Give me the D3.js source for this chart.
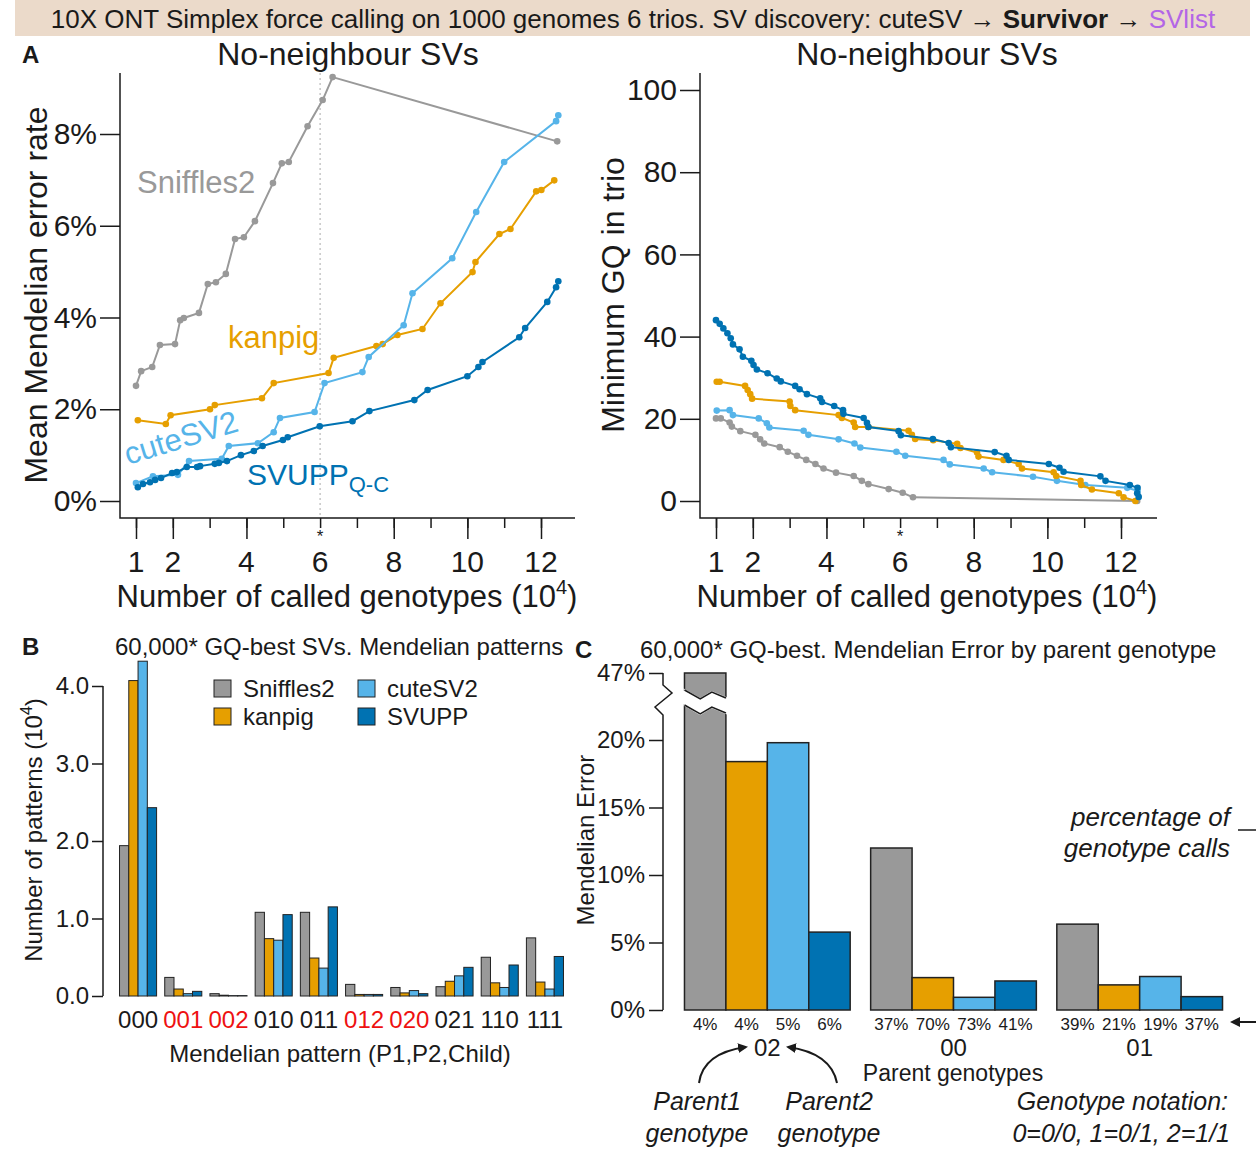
<!DOCTYPE html>
<html>
<head>
<meta charset="utf-8">
<script src="https://cdn.jsdelivr.net/npm/d3@7"></script>
<style>
body { margin: 0; background: #fff; }
svg { font-family: "Liberation Sans", Arial, Helvetica, sans-serif; }
</style>
</head>
<body>
<svg id="fig" width="1256" height="1149"></svg>
<script>
var callers = ["Sniffles2", "kanpig", "cuteSV2", "SVUPP"];
var colors = ["#999999", "#E69F00", "#56B4E9", "#0072B2"];

// A left: [called genotypes (10^4), mean Mendelian error %]
var errSniffles = [[1.00,2.51],[1.14,2.83],[1.44,2.92],[1.65,3.40],[2.06,3.42],[2.20,3.94],[2.30,3.99],[2.71,4.10],[2.95,4.73],[3.17,4.77],[3.44,4.95],[3.69,5.71],[3.93,5.75],[4.23,6.10],[4.72,6.93],[4.96,7.36],[5.15,7.39],[5.66,8.17],[6.07,8.74],[6.34,9.24],[12.44,7.84]];
var errKanpig = [[1.05,1.76],[1.81,1.68],[1.94,1.87],[3.01,2.00],[3.14,2.09],[4.42,2.24],[4.74,2.57],[6.23,2.79],[6.37,3.12],[7.53,3.38],[7.70,3.42],[8.10,3.62],[8.78,3.75],[9.27,4.31],[10.14,4.99],[10.22,5.21],[10.87,5.82],[11.17,5.93],[11.87,6.75],[12.01,6.78],[12.36,6.99]];
var errCute = [[1.00,0.39],[1.46,0.54],[2.14,0.57],[2.44,0.87],[3.33,0.92],[3.52,1.20],[4.31,1.26],[4.74,1.50],[4.91,1.81],[5.85,1.94],[6.12,2.57],[7.15,2.81],[7.32,3.14],[8.27,3.83],[8.51,4.53],[9.59,5.29],[10.24,6.30],[11.00,7.39],[12.41,8.28],[12.47,8.41]];
var errSvupp = [[1.05,0.30],[1.19,0.37],[1.38,0.41],[1.52,0.46],[1.68,0.50],[1.98,0.61],[2.11,0.63],[2.38,0.74],[2.66,0.74],[2.74,0.76],[3.14,0.81],[3.25,0.83],[3.47,0.87],[3.85,1.00],[4.20,1.09],[4.44,1.20],[4.99,1.33],[5.12,1.39],[5.99,1.63],[6.88,1.74],[7.34,1.96],[8.56,2.20],[8.92,2.42],[10.00,2.72],[10.30,2.92],[10.41,3.03],[11.41,3.57],[11.57,3.77],[12.17,4.34],[12.41,4.66],[12.47,4.79]];

// A right: [called genotypes (10^4), minimum GQ in trio]
var gqSniffles = [[1.00,20.1],[1.13,20.1],[1.37,19.1],[1.43,18.1],[1.66,17.0],[2.07,16.1],[2.20,15.0],[2.31,14.0],[2.73,13.1],[2.95,12.0],[3.20,11.0],[3.45,10.0],[3.70,9.0],[3.92,7.9],[4.26,6.9],[4.74,6.1],[4.96,4.9],[5.14,4.1],[5.69,2.9],[6.07,2.0],[6.35,0.9],[12.44,0.0]];
var gqKanpig = [[1.02,29.0],[1.10,29.0],[1.79,28.0],[1.86,27.0],[1.93,26.0],[1.98,24.9],[3.00,24.2],[3.02,23.1],[3.15,22.1],[4.33,20.9],[4.42,20.2],[4.74,19.1],[4.78,18.0],[5.14,18.0],[6.23,17.1],[6.32,16.1],[6.41,15.1],[6.90,14.8],[7.55,13.9],[7.64,12.9],[8.09,11.8],[8.13,10.8],[8.81,10.0],[9.22,9.0],[9.31,7.9],[10.17,7.0],[10.24,6.1],[10.90,4.9],[10.92,3.9],[11.21,2.8],[11.94,1.9],[12.07,0.9],[12.39,0.0]];
var gqCute = [[1.02,22.0],[1.37,22.1],[1.46,20.9],[2.16,20.1],[2.38,18.9],[2.45,17.9],[3.38,17.1],[3.51,16.1],[4.33,15.0],[4.76,14.0],[4.92,13.0],[5.90,12.0],[6.14,11.0],[7.18,10.0],[7.35,8.9],[8.27,7.9],[8.50,7.0],[9.61,5.9],[10.26,4.9],[11.03,3.9],[12.17,3.2],[12.45,2.5]];
var gqSvupp = [[1.00,44.0],[1.10,43.1],[1.20,42.0],[1.31,40.8],[1.40,39.6],[1.46,38.1],[1.64,36.9],[1.73,35.1],[1.96,34.1],[2.02,33.1],[2.11,32.0],[2.40,31.1],[2.65,29.8],[2.76,29.1],[3.15,28.0],[3.27,27.2],[3.47,26.0],[3.83,25.0],[3.88,24.1],[4.21,23.1],[4.45,22.1],[4.46,21.2],[5.01,20.2],[5.10,19.0],[5.14,18.0],[5.96,17.0],[6.02,16.0],[6.89,15.1],[7.32,14.1],[7.38,13.1],[8.57,11.9],[8.89,11.0],[8.95,10.0],[10.04,9.0],[10.33,8.1],[10.44,7.1],[11.44,6.0],[11.58,4.9],[12.24,3.9],[12.45,3.2],[12.44,1.9],[12.48,1.0]];

// B: pattern counts (10^4)
var patterns = ["000","001","002","010","011","012","020","021","110","111"];
var badPatterns = ["001","002","012","020"];
var patSniffles = [1.94,0.24,0.03,1.08,1.08,0.15,0.11,0.12,0.50,0.75];
var patKanpig   = [4.07,0.09,0.01,0.74,0.49,0.02,0.04,0.19,0.17,0.18];
var patCute     = [4.32,0.03,0.005,0.72,0.36,0.02,0.07,0.26,0.11,0.09];
var patSvupp    = [2.43,0.06,0.005,1.05,1.15,0.02,0.03,0.37,0.40,0.51];

// C: Mendelian error % by parent genotype, and share of genotype calls
var parentGt = ["02","00","01"];
var meSniffles = [47, 12.0, 6.36];
var meKanpig   = [18.4, 2.4, 1.86];
var meCute     = [19.8, 0.94, 2.48];
var meSvupp    = [5.77, 2.15, 0.99];
var callSniffles = [4, 37, 39];
var callKanpig   = [4, 70, 21];
var callCute     = [5, 73, 19];
var callSvupp    = [6, 41, 37];

var errTicks = [0, 2, 4, 6, 8];
var gtMinor = [1, 2, 3, 4, 5, 6, 7, 8, 9, 10, 11, 12];
var gtMajor = [1, 2, 4, 8, 10, 12];
var gtLabels = [1, 2, 4, 6, 8, 10, 12];
var gqTicks = [0, 20, 40, 60, 80, 100];
var patTicks = [0, 1, 2, 3, 4];
var meTicks = [0, 5, 10, 15, 20, 47];

var ink = "#1a1a1a";
var svg = d3.select("#fig");

var defs = svg.append("defs");
defs.append("marker")
    .attr("id", "arr")
    .attr("viewBox", "0 0 10 10")
    .attr("refX", 8).attr("refY", 5)
    .attr("markerWidth", 5).attr("markerHeight", 5)
    .attr("orient", "auto")
  .append("path")
    .attr("d", "M0,0L10,5L0,10z")
    .attr("fill", ink);

// Header band
svg.append("rect")
    .attr("x", 15).attr("y", 0)
    .attr("width", 1235).attr("height", 36)
    .attr("fill", "#ebdaca");
var head = svg.append("text")
    .attr("x", 633).attr("y", 28)
    .attr("text-anchor", "middle")
    .style("font-size", "26px")
    .attr("fill", ink);
head.append("tspan").text("10X ONT Simplex force calling on 1000 genomes 6 trios. SV discovery: cuteSV \u2192 ");
head.append("tspan").attr("font-weight", "bold").text("Survivor");
head.append("tspan").text(" \u2192 ");
head.append("tspan").attr("fill", "#b366e6").text("SVlist");

function styleAxis(g, size) {
  g.attr("font-family", null);
  g.select(".domain").remove();
  g.selectAll("line").attr("stroke", ink).attr("stroke-width", 1.5);
  g.selectAll("text").attr("fill", ink).style("font-size", size + "px");
}

function label(x, y, txt, size, opts) {
  opts = opts || {};
  var t = svg.append("text")
      .attr("x", x).attr("y", y)
      .attr("text-anchor", opts.anchor || "start")
      .attr("fill", opts.fill || ink)
      .style("font-size", size + "px")
      .text(txt);
  if (opts.bold) t.attr("font-weight", "bold");
  if (opts.italic) t.style("font-style", "italic");
  return t;
}

function drawSeries(g, data, x, y, color) {
  g.append("path")
      .datum(data)
      .attr("fill", "none")
      .attr("stroke", color)
      .attr("stroke-width", 2)
      .attr("d", d3.line().x(d => x(d[0])).y(d => y(d[1])));
  g.selectAll(null)
      .data(data)
    .enter()
    .append("circle")
      .attr("cx", d => x(d[0]))
      .attr("cy", d => y(d[1]))
      .attr("r", 3.3)
      .attr("fill", color);
}

function lineFrame(left, top, bottom, right) {
  svg.append("path")
      .attr("d", `M${left},${top}V${bottom}H${right}`)
      .attr("fill", "none")
      .attr("stroke", ink)
      .attr("stroke-width", 1.5);
}

function genotypeXAxis(x, cx) {
  // short ticks at every integer, long ones at the main labels
  var gMinor = svg.append("g")
      .attr("transform", "translate(0,518)")
      .call(d3.axisBottom(x).tickValues(gtMinor).tickFormat("").tickSize(10));
  styleAxis(gMinor, 30);
  var gMajor = svg.append("g")
      .attr("transform", "translate(0,518)")
      .call(d3.axisBottom(x).tickValues(gtMajor).tickFormat("").tickSize(21));
  styleAxis(gMajor, 30);
  svg.append("g")
    .selectAll("text")
    .data(gtLabels)
    .enter()
    .append("text")
      .attr("x", d => x(d))
      .attr("y", 572)
      .attr("text-anchor", "middle")
      .attr("fill", ink)
      .style("font-size", "30px")
      .text(d => d);
  var t = label(cx, 607, "Number of called genotypes (10", 31, {anchor: "middle"});
  t.append("tspan").attr("dy", -13).style("font-size", "20px").text("4");
  t.append("tspan").attr("dy", 13).text(")");
  label(x(6), 542, "*", 17, {anchor: "middle"});
}

// ---------- Panel A, left ----------
var xA = d3.scaleLinear().domain([1, 12]).range([136, 541]);
var yA = d3.scaleLinear().domain([0, 8]).range([501, 134]);

label(22, 63, "A", 24, {bold: true});
label(348, 65, "No-neighbour SVs", 32, {anchor: "middle"});

svg.append("line")
    .attr("x1", xA(6)).attr("x2", xA(6))
    .attr("y1", 73).attr("y2", 518)
    .attr("stroke", "#aaaaaa")
    .attr("stroke-width", 1)
    .attr("stroke-dasharray", "2,3");

lineFrame(120, 73, 518, 575);

var gA = svg.append("g")
    .attr("transform", "translate(120,0)")
    .call(d3.axisLeft(yA).tickValues(errTicks).tickFormat(d => d + "%").tickSize(20).tickPadding(3));
styleAxis(gA, 30);
genotypeXAxis(xA, 347);

svg.append("text")
    .attr("transform", "translate(47,295) rotate(-90)")
    .attr("text-anchor", "middle")
    .attr("fill", ink)
    .style("font-size", "32px")
    .text("Mean Mendelian error rate");

var plotA = svg.append("g");
[errSniffles, errKanpig, errCute, errSvupp].forEach((s, i) => drawSeries(plotA, s, xA, yA, colors[i]));

label(137, 193, "Sniffles2", 31, {fill: colors[0]});
label(228, 348, "kanpig", 31, {fill: colors[1]});
svg.append("text")
    .attr("transform", "translate(128,465) rotate(-17)")
    .attr("fill", colors[2])
    .style("font-size", "31px")
    .text("cuteSV2");
var sv = label(247, 485, "SVUPP", 30, {fill: colors[3]});
sv.append("tspan").attr("dy", 7).style("font-size", "22px").text("Q-C");

// ---------- Panel A, right ----------
var xR = d3.scaleLinear().domain([1, 12]).range([716, 1121]);
var yR = d3.scaleLinear().domain([0, 100]).range([501, 90]);

label(927, 65, "No-neighbour SVs", 32, {anchor: "middle"});
lineFrame(700, 73, 518, 1157);

var gR = svg.append("g")
    .attr("transform", "translate(700,0)")
    .call(d3.axisLeft(yR).tickValues(gqTicks).tickSize(20).tickPadding(3));
styleAxis(gR, 30);
genotypeXAxis(xR, 927);

svg.append("text")
    .attr("transform", "translate(624,295) rotate(-90)")
    .attr("text-anchor", "middle")
    .attr("fill", ink)
    .style("font-size", "32px")
    .text("Minimum GQ in trio");

var plotR = svg.append("g");
[gqSniffles, gqCute, gqKanpig, gqSvupp].forEach((s, i) => drawSeries(plotR, s, xR, yR, colors[[0, 2, 1, 3][i]]));

// ---------- Panel B ----------
var patSeries = [patSniffles, patKanpig, patCute, patSvupp];
var xB = d3.scaleBand().domain(patterns).range([115, 568]).paddingInner(0.18).paddingOuter(0.1);
var xBsub = d3.scaleBand().domain(callers).range([0, xB.bandwidth()]);
var yB = d3.scaleLinear().domain([0, 4]).range([996, 686]);

label(22, 655, "B", 24, {bold: true});
label(115, 655, "60,000* GQ-best SVs. Mendelian patterns", 24);

svg.append("line")
    .attr("x1", 103).attr("x2", 103)
    .attr("y1", yB(0)).attr("y2", yB(4))
    .attr("stroke", ink).attr("stroke-width", 1.5);
var gB = svg.append("g")
    .attr("transform", "translate(103,0)")
    .call(d3.axisLeft(yB).tickValues(patTicks).tickFormat(d3.format(".1f")).tickSize(11).tickPadding(3));
styleAxis(gB, 24);

var tB = svg.append("text")
    .attr("transform", "translate(42,830) rotate(-90)")
    .attr("text-anchor", "middle")
    .attr("fill", ink)
    .style("font-size", "24px")
    .text("Number of patterns (10");
tB.append("tspan").attr("dy", -10).style("font-size", "16px").text("4");
tB.append("tspan").attr("dy", 10).text(")");

var barsB = svg.append("g");
callers.forEach((c, i) => {
  barsB.selectAll(null)
      .data(patSeries[i])
    .enter()
    .append("rect")
      .attr("x", (d, j) => xB(patterns[j]) + xBsub(c))
      .attr("y", d => yB(d))
      .attr("width", xBsub.bandwidth())
      .attr("height", d => yB(0) - yB(d))
      .attr("fill", colors[i])
      .attr("stroke", "#222")
      .attr("stroke-width", 1);
});

svg.append("g")
    .selectAll("text")
    .data(patterns)
  .enter()
  .append("text")
    .attr("x", d => xB(d) + xB.bandwidth() / 2)
    .attr("y", 1028)
    .attr("text-anchor", "middle")
    .attr("fill", d => badPatterns.includes(d) ? "#ee1111" : ink)
    .style("font-size", "24px")
    .text(d => d);

label(340, 1062, "Mendelian pattern (P1,P2,Child)", 24, {anchor: "middle"});

var legB = svg.append("g");
callers.forEach((c, i) => {
  var lx = i < 2 ? 214 : 358;
  var ly = i % 2 === 0 ? 680 : 708;
  legB.append("rect")
      .attr("x", lx).attr("y", ly)
      .attr("width", 17).attr("height", 17)
      .attr("fill", colors[i])
      .attr("stroke", "#222").attr("stroke-width", 1);
  label(lx + 29, ly + 17, c, 24);
});

// ---------- Panel C ----------
var meSeries = [meSniffles, meKanpig, meCute, meSvupp];
var callSeries = [callSniffles, callKanpig, callCute, callSvupp];
var xC = d3.scaleBand().domain(parentGt).range([664, 1243]).padding(0.11);
var xCsub = d3.scaleBand().domain(callers).range([0, xC.bandwidth()]);
var yC = d3.scaleLinear().domain([0, 20, 47]).range([1010, 740, 673]);

label(575, 658, "C", 24, {bold: true});
label(640, 658, "60,000* GQ-best. Mendelian Error by parent genotype", 24);

var brk = yC(47);
svg.append("path")
    .attr("d", `M663,${brk}V${brk + 12}L672,${brk + 20}L655,${brk + 34}L663,${brk + 42}V${yC(0)}`)
    .attr("fill", "none")
    .attr("stroke", ink)
    .attr("stroke-width", 1.5);
var gC = svg.append("g")
    .attr("transform", "translate(663,0)")
    .call(d3.axisLeft(yC).tickValues(meTicks).tickFormat(d => d + "%").tickSize(14).tickPadding(4));
styleAxis(gC, 24);

svg.append("text")
    .attr("transform", "translate(594,840) rotate(-90)")
    .attr("text-anchor", "middle")
    .attr("fill", ink)
    .style("font-size", "24px")
    .text("Mendelian Error");

var barsC = svg.append("g");
callers.forEach((c, i) => {
  barsC.selectAll(null)
      .data(meSeries[i])
    .enter()
    .append("rect")
      .attr("x", (d, j) => xC(parentGt[j]) + xCsub(c))
      .attr("y", d => yC(d))
      .attr("width", xCsub.bandwidth())
      .attr("height", d => yC(0) - yC(d))
      .attr("fill", colors[i])
      .attr("stroke", "#222")
      .attr("stroke-width", 1.5);
  barsC.selectAll(null)
      .data(callSeries[i])
    .enter()
    .append("text")
      .attr("x", (d, j) => xC(parentGt[j]) + xCsub(c) + xCsub.bandwidth() / 2)
      .attr("y", 1030)
      .attr("text-anchor", "middle")
      .attr("fill", ink)
      .style("font-size", "17px")
      .text(d => d + "%");
});

// axis break across the tall Sniffles2 bar
var bx0 = xC("02") + xCsub("Sniffles2");
var bw = xCsub.bandwidth();
var zig = [[0, 0], [0.38, 9], [0.66, 2], [1, 8]];
var topEdge = zig.map(p => [bx0 + p[0] * bw, brk + 17 + p[1]]);
var botEdge = zig.map(p => [bx0 + p[0] * bw, brk + 32 + p[1]]);
svg.append("path")
    .attr("d", d3.line()(topEdge.concat(botEdge.slice().reverse())) + "Z")
    .attr("fill", "#fff")
    .attr("stroke", "#fff")
    .attr("stroke-width", 2);
svg.append("line")
    .attr("x1", bx0).attr("x2", bx0)
    .attr("y1", brk + 18).attr("y2", brk + 31)
    .attr("stroke", "#fff").attr("stroke-width", 3);
svg.append("line")
    .attr("x1", bx0 + bw).attr("x2", bx0 + bw)
    .attr("y1", brk + 26).attr("y2", brk + 39)
    .attr("stroke", "#fff").attr("stroke-width", 3);
[topEdge, botEdge].forEach(e => {
  svg.append("path")
      .attr("d", d3.line()(e))
      .attr("fill", "none")
      .attr("stroke", ink)
      .attr("stroke-width", 1.5);
});

svg.append("g")
    .selectAll("text")
    .data(parentGt)
  .enter()
  .append("text")
    .attr("x", d => xC(d) + xC.bandwidth() / 2)
    .attr("y", 1056)
    .attr("text-anchor", "middle")
    .attr("fill", ink)
    .style("font-size", "24px")
    .text(d => d);
label(953, 1081, "Parent genotypes", 23, {anchor: "middle"});

// annotations
label(1230, 826, "percentage of", 26, {anchor: "end", italic: true});
label(1230, 857, "genotype calls", 26, {anchor: "end", italic: true});
svg.append("line")
    .attr("x1", 1238).attr("x2", 1256)
    .attr("y1", 830).attr("y2", 830)
    .attr("stroke", ink).attr("stroke-width", 1.5);
svg.append("line")
    .attr("x1", 1256).attr("x2", 1232)
    .attr("y1", 1022).attr("y2", 1022)
    .attr("stroke", ink).attr("stroke-width", 2)
    .attr("marker-end", "url(#arr)");

svg.append("path")
    .attr("d", "M699,1083Q703,1053 746,1047")
    .attr("fill", "none").attr("stroke", ink).attr("stroke-width", 2)
    .attr("marker-end", "url(#arr)");
svg.append("path")
    .attr("d", "M837,1083Q831,1053 788,1047")
    .attr("fill", "none").attr("stroke", ink).attr("stroke-width", 2)
    .attr("marker-end", "url(#arr)");

label(697, 1110, "Parent1", 25, {anchor: "middle", italic: true});
label(697, 1142, "genotype", 25, {anchor: "middle", italic: true});
label(829, 1110, "Parent2", 25, {anchor: "middle", italic: true});
label(829, 1142, "genotype", 25, {anchor: "middle", italic: true});
label(1228, 1110, "Genotype notation:", 25, {anchor: "end", italic: true});
label(1230, 1142, "0=0/0, 1=0/1, 2=1/1", 25, {anchor: "end", italic: true});
</script>
</body>
</html>
